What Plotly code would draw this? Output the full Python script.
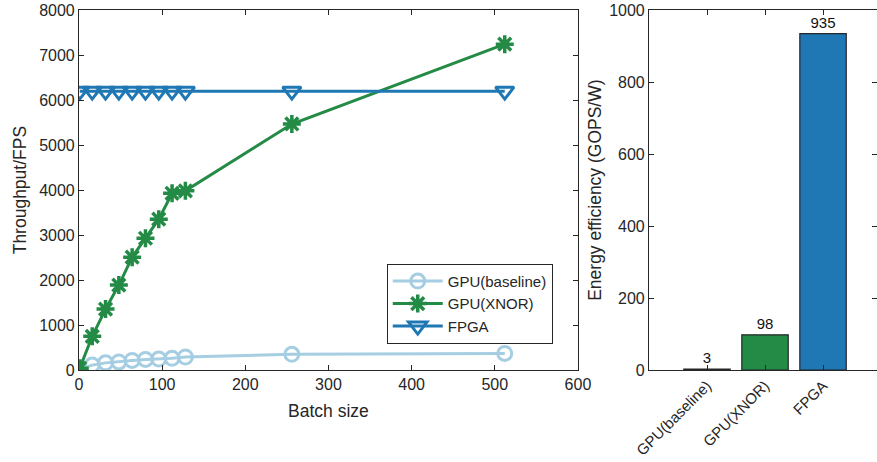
import plotly.graph_objects as go

batch = [1, 16, 32, 48, 64, 80, 96, 112, 128, 256, 512]
gpu_base = [20, 110, 160, 180, 215, 237, 245, 260, 290, 350, 370]
gpu_xnor = [40, 750, 1355, 1890, 2510, 2930, 3355, 3930, 3985, 5470, 7245]
fpga = [6200] * 11

bar_cats = ["GPU(baseline)", "GPU(XNOR)", "FPGA"]
bar_vals = [3, 98, 935]

c_light = "#a6cee3"
c_green = "#238b45"
c_blue = "#1f78b4"
font = "Liberation Sans, Arial, sans-serif"

fig = go.Figure()
fig.add_trace(go.Scatter(x=batch, y=gpu_base, name="GPU(baseline)", mode="lines+markers",
                         line=dict(color=c_light, width=3),
                         marker=dict(symbol="circle-open", size=14, color=c_light, line=dict(width=3))))
fig.add_trace(go.Scatter(x=batch, y=gpu_xnor, name="GPU(XNOR)", mode="lines+markers",
                         line=dict(color=c_green, width=3),
                         marker=dict(symbol="asterisk-open", size=15, color=c_green, line=dict(width=3.5, color=c_green))))
fig.add_trace(go.Scatter(x=batch, y=fpga, name="FPGA", mode="lines+markers",
                         line=dict(color=c_blue, width=3),
                         marker=dict(symbol="triangle-down-open", size=16, color=c_blue, line=dict(width=3))))

fig.add_trace(go.Bar(x=[1, 2, 3], y=bar_vals, xaxis="x2", yaxis="y2", width=0.8,
                     marker=dict(color=[c_light, c_green, c_blue], line=dict(color="#262626", width=1.2)),
                     text=[str(v) for v in bar_vals], textposition="outside",
                     textfont=dict(size=15, color="#111111", family=font),
                     cliponaxis=False, showlegend=False))

axis_common = dict(showline=True, linecolor="#262626", linewidth=1, mirror="ticks",
                   ticks="inside", ticklen=5, tickcolor="#262626", showgrid=False, zeroline=False,
                   automargin=False,
                   tickfont=dict(size=16, color="#262626", family=font))

axis_bar_x = dict(axis_common)
axis_bar_x["tickfont"] = dict(size=15, color="#262626", family=font)

fig.update_layout(
    width=877, height=462,
    margin=dict(l=0, r=0, t=0, b=0),
    plot_bgcolor="white", paper_bgcolor="white",
    font=dict(family=font, size=16, color="#262626"),
    xaxis=dict(domain=[0.090, 0.659], range=[0, 600], dtick=100,
               title=dict(text="Batch size", font=dict(size=17.5), standoff=12), **axis_common),
    yaxis=dict(domain=[0.199, 0.978], range=[0, 8000], dtick=1000,
               title=dict(text="Throughput/FPS", font=dict(size=17.5), standoff=8), **axis_common),
    xaxis2=dict(domain=[0.740, 1.0], range=[0, 3.93], anchor="y2",
                tickvals=[1, 2, 3], ticktext=bar_cats, tickangle=-45, **axis_bar_x),
    yaxis2=dict(domain=[0.199, 0.978], range=[0, 1000], dtick=200, anchor="x2",
                title=dict(text="Energy efficiency (GOPS/W)", font=dict(size=17.5), standoff=3), **axis_common),
    legend=dict(x=0.441, y=0.429, xanchor="left", yanchor="top",
                bordercolor="#262626", borderwidth=1, bgcolor="white",
                font=dict(size=15, family=font), tracegroupgap=0, itemwidth=50),
    bargap=0.2,
)

fig.write_html("out.html", config={"displayModeBar": False},
               post_script="document.body.style.margin='0';")
